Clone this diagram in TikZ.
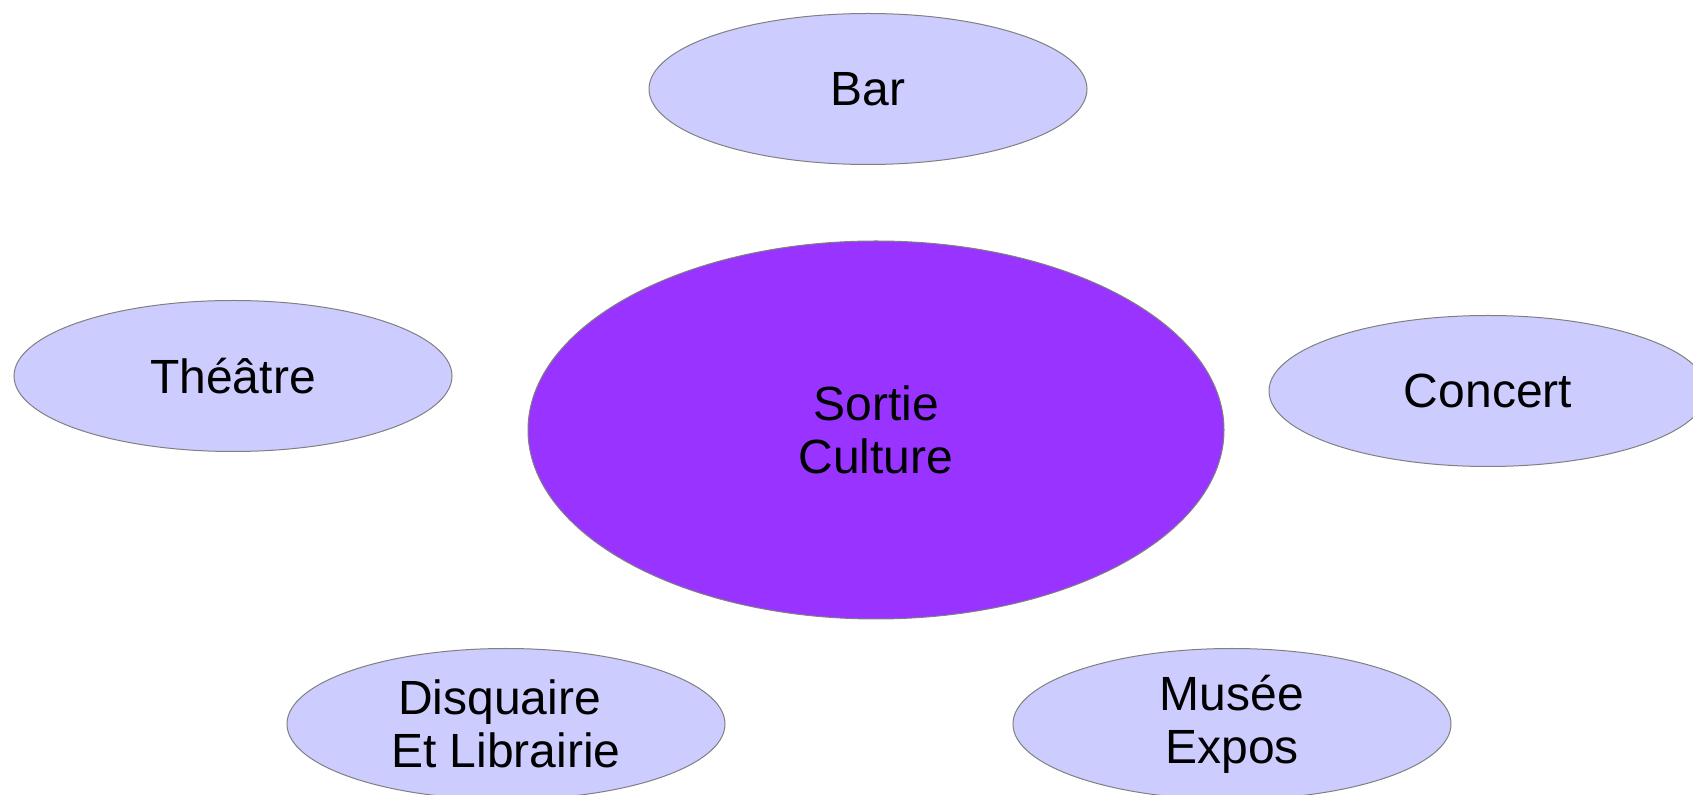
\documentclass[tikz,border=0pt]{standalone}
\usepackage{fontspec}
\setmainfont{Liberation Sans}
\usetikzlibrary{shapes.geometric}
\definecolor{lav}{HTML}{CCCCFF}
\definecolor{purp}{HTML}{9933FF}
\definecolor{edge}{HTML}{808080}
\begin{document}
\begin{tikzpicture}[x=0.5pt,y=-0.5pt,
  leaf/.style={ellipse, draw=edge, line width=0.5pt, fill=lav, inner sep=0pt,
    minimum width=219pt, minimum height=75.5pt, align=center,
    font=\fontsize{24pt}{26.5pt}\selectfont},
  hub/.style={ellipse, draw=edge, line width=0.5pt, fill=purp, inner sep=0pt,
    minimum width=348pt, minimum height=189pt, align=center,
    font=\fontsize{24pt}{26.5pt}\selectfont}]
\useasboundingbox (0,0) rectangle (1693,795);
\clip (0,0) rectangle (1693,795);
\node[hub] (hub) at (876,430) {Sortie\\Culture};
\node[leaf] (bar) at (868,89) {Bar};
\node[leaf] (theatre) at (233,376) {Théâtre};
\node[leaf] (concert) at (1488,391) {Concert};
\node[leaf] (disq) at (506,724) {Disquaire\hspace*{6.5pt}\\Et Librairie};
\node[leaf] (musee) at (1232,724) {Musée\\Expos};
\end{tikzpicture}
\end{document}
